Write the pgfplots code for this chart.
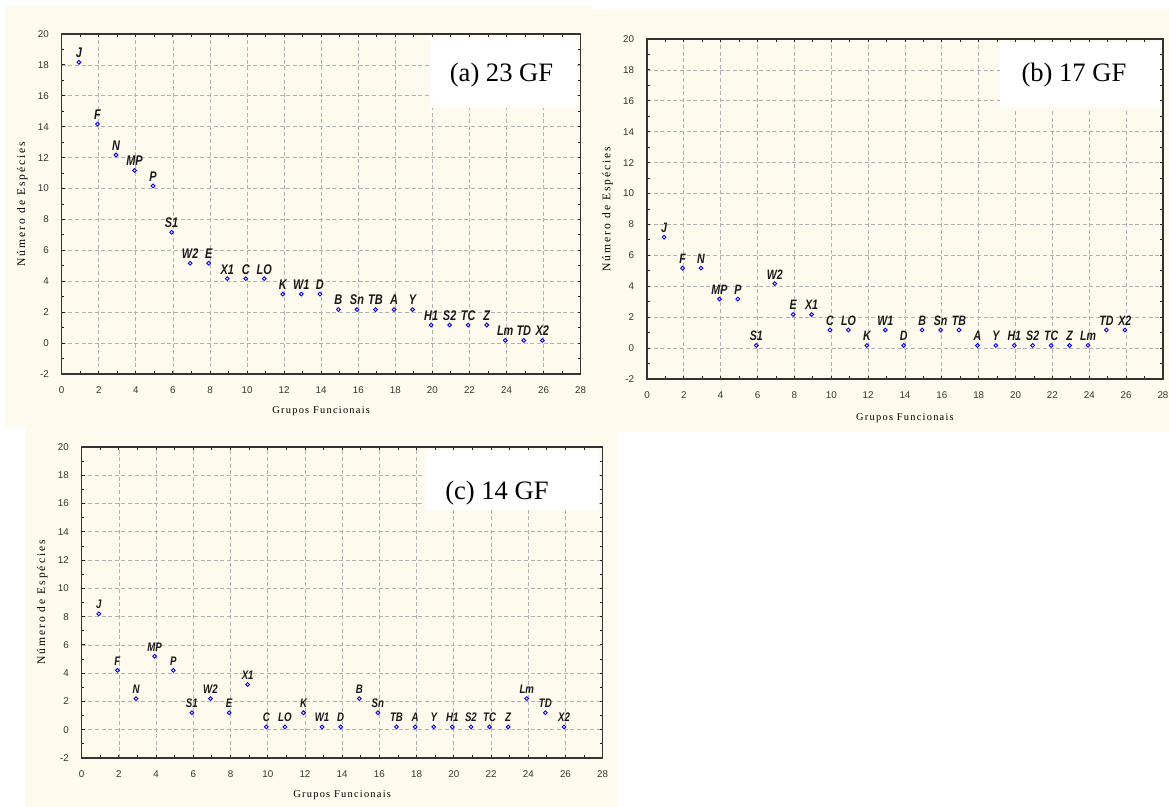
\documentclass[border=0pt]{standalone}
\usepackage{fontspec}
\usepackage{pgfplots}
\usepackage{pgfplotstable}
\pgfplotsset{compat=1.18}
\setmainfont{Liberation Serif}
\newfontfamily\tickfont{Liberation Sans}
\newfontfamily\lblfont[FakeStretch=0.78]{Liberation Sans}
\newfontfamily\ylabfont[LetterSpace=17]{Liberation Serif}
\newfontfamily\xlabfont[LetterSpace=12]{Liberation Serif}
\definecolor{cream}{RGB}{254,250,237}
\definecolor{ptblue}{RGB}{0,0,255}

\pgfplotstableread{
x y lab
0.93 18.17 J
1.93 14.17 F
2.93 12.17 N
3.93 11.17 MP
4.93 10.17 P
5.93 7.17 S1
6.93 5.17 W2
7.93 5.17 E
8.93 4.17 X1
9.93 4.17 C
10.93 4.17 LO
11.93 3.17 K
12.93 3.17 W1
13.93 3.17 D
14.93 2.17 B
15.93 2.17 Sn
16.93 2.17 TB
17.93 2.17 A
18.93 2.17 Y
19.93 1.17 H1
20.93 1.17 S2
21.93 1.17 TC
22.93 1.17 Z
23.93 0.17 Lm
24.93 0.17 TD
25.93 0.17 X2
}\tabA

\pgfplotstableread{
x y lab
0.93 7.17 J
1.93 5.17 F
2.93 5.17 N
3.93 3.17 MP
4.93 3.17 P
5.93 0.17 S1
6.93 4.17 W2
7.93 2.17 E
8.93 2.17 X1
9.93 1.17 C
10.93 1.17 LO
11.93 0.17 K
12.93 1.17 W1
13.93 0.17 D
14.93 1.17 B
15.93 1.17 Sn
16.93 1.17 TB
17.93 0.17 A
18.93 0.17 Y
19.93 0.17 H1
20.93 0.17 S2
21.93 0.17 TC
22.93 0.17 Z
23.93 0.17 Lm
24.93 1.17 TD
25.93 1.17 X2
}\tabB

\pgfplotstableread{
x y lab
0.92 8.2 J
1.92 4.2 F
2.92 2.2 N
3.92 5.2 MP
4.92 4.2 P
5.92 1.2 S1
6.92 2.2 W2
7.92 1.2 E
8.92 3.2 X1
9.92 0.2 C
10.92 0.2 LO
11.92 1.2 K
12.92 0.2 W1
13.92 0.2 D
14.92 2.2 B
15.92 1.2 Sn
16.92 0.2 TB
17.92 0.2 A
18.92 0.2 Y
19.92 0.2 H1
20.92 0.2 S2
21.92 0.2 TC
22.92 0.2 Z
23.92 2.2 Lm
24.92 1.2 TD
25.92 0.2 X2
}\tabC

\pgfplotsset{
  panel/.style={
    scale only axis,
    anchor=south west,
    xmin=0, xmax=28, ymin=-2, ymax=20,
    xtick={0,2,...,28}, ytick={-2,0,...,20},
    minor x tick num=1, minor y tick num=1,
    tick align=inside, tick pos=both,
    major tick length=1.5pt, minor tick length=1.3pt,
    every tick/.style={black!85, line width=0.45pt},
    axis line style={black!80, line width=0.65pt},
    grid=major,
    major grid style={black!30, line width=0.4pt, dash pattern=on 2pt off 1.3pt},
    ticklabel style={font=\tickfont\fontsize{4.9}{5}\selectfont, text=black!80},
    /pgf/number format/assume math mode=true,
    xticklabel style={yshift=-3.0pt},
    yticklabel style={xshift=-2.9pt},
    xlabel={Grupos Funcionais},
    ylabel={Número de Espécies},
    xlabel style={font=\xlabfont\fontsize{5.2}{6}\selectfont, anchor=center},
    ylabel style={font=\ylabfont\fontsize{5.8}{6}\selectfont, anchor=center},
    clip=false,
  },
  pts/.style={
    only marks, mark=o, mark size=0.95pt, ptblue, line width=0.45pt,
    point meta=explicit symbolic,
    nodes near coords,
  },
}

\begin{document}
\begin{tikzpicture}
\path[use as bounding box] (0,0) rectangle (584.5pt,-403.5pt);
\fill[cream] (2.5pt,-2.5pt) rectangle (296.5pt,-214pt);
\fill[cream] (296.5pt,-5pt) rectangle (584.5pt,-216pt);
\fill[cream] (13pt,-214pt) rectangle (308.5pt,-403.5pt);

% (a)
\begin{axis}[panel, at={(30.85pt,-187pt)}, width=259.5pt, height=170pt,
  xlabel style={at={(axis description cs:0.5,-0.109)}},
  ylabel style={at={(axis description cs:-0.076,0.5)}}]
\fill[white] (axis cs:19.87,15.23) rectangle ([xshift=-1.6pt,yshift=-1.6pt]rel axis cs:1,1);
\node[anchor=base, font=\fontsize{13.3}{14}\selectfont, inner sep=0pt] at (axis cs:23.73,16.93) {(a) 23 GF};
\addplot[pts, every node near coord/.style={anchor=base, yshift=2.3pt, inner sep=0pt, black!90, font=\lblfont\bfseries\itshape\fontsize{7}{7}\selectfont}]
  table[x=x, y=y, meta=lab] {\tabA};
\end{axis}

% (b)
\begin{axis}[panel, at={(323.5pt,-189.5pt)}, width=258pt, height=170pt,
  xlabel style={at={(axis description cs:0.5,-0.115)}},
  ylabel style={at={(axis description cs:-0.0765,0.5)}}]
\fill[white] (axis cs:19.15,15.53) rectangle ([xshift=-1.6pt,yshift=-1.6pt]rel axis cs:1,1);
\node[anchor=base, font=\fontsize{13.3}{14}\selectfont, inner sep=0pt] at (axis cs:23.17,17.24) {(b) 17 GF};
\addplot[pts, every node near coord/.style={anchor=base, yshift=2.3pt, inner sep=0pt, black!90, font=\lblfont\bfseries\itshape\fontsize{6.8}{7}\selectfont}]
  table[x=x, y=y, meta=lab] {\tabB};
\end{axis}

% (c)
\begin{axis}[panel, at={(40.85pt,-379pt)}, width=260.5pt, height=155.5pt,
  xlabel style={at={(axis description cs:0.5,-0.119)}},
  ylabel style={at={(axis description cs:-0.0758,0.5)}}]
\fill[white] (axis cs:18.45,15.52) rectangle ([xshift=-1.6pt,yshift=-1.6pt]rel axis cs:1,1);
\node[anchor=base, font=\fontsize{13.3}{14}\selectfont, inner sep=0pt] at (axis cs:22.32,16.28) {(c) 14 GF};
\addplot[pts, every node near coord/.style={anchor=base, yshift=2.6pt, inner sep=0pt, black!90, font=\lblfont\bfseries\itshape\fontsize{6.2}{7}\selectfont}]
  table[x=x, y=y, meta=lab] {\tabC};
\end{axis}
\end{tikzpicture}
\end{document}
